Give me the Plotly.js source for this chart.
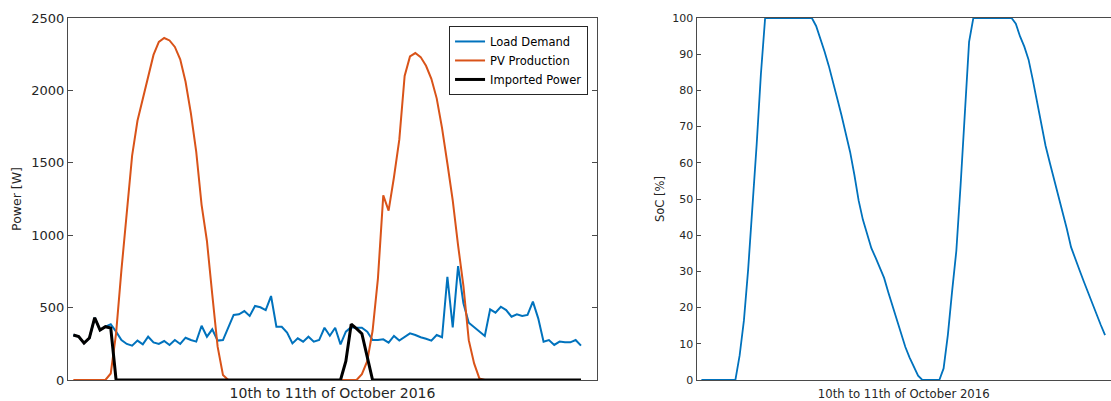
<!DOCTYPE html>
<html>
<head>
<meta charset="utf-8">
<script src="https://cdn.plot.ly/plotly-3.0.1.min.js"></script>
<style>
html,body{margin:0;padding:0;background:#fff;overflow:hidden;}
#chart{width:1111px;height:401px;}
</style>
</head>
<body>
<div id="chart"></div>
<script>
// ---- data (one sample per 30 min, 10th-11th October 2016) ----
const seriesNames = ["Load Demand", "PV Production", "Imported Power"];
const xAxisLabel = "10th to 11th of October 2016";
const powerAxisLabel = "Power [W]";
const socAxisLabel = "SoC [%]";

const loadDemand = [
  311,300,255,290,430,345,368,385,334,276,249,237,272,246,299,260,249,269,242,276,
  249,292,276,265,375,299,350,272,276,368,449,454,476,442,511,502,483,580,368,368,
  327,253,288,265,299,265,276,361,306,361,246,334,365,360,361,334,276,276,281,258,
  304,272,299,322,311,295,285,272,311,295,713,364,787,530,396,364,334,304,488,465,
  506,483,437,454,442,449,541,426,265,276,242,265,260,260,276,237
];
const pvProduction = [
  0,0,0,0,0,0,0,45,322,760,1180,1550,1790,1940,2110,2245,2335,2362,2345,2300,
  2215,2060,1842,1575,1210,960,590,230,35,0,0,0,0,0,0,0,0,0,0,0,
  0,0,0,0,0,0,0,0,0,0,0,0,0,0,40,130,340,700,1275,1170,
  1400,1660,2100,2235,2258,2230,2170,2080,1945,1740,1495,1240,930,650,275,115,10,0,0,0,
  0,0,0,0,0,0,0,0,0,0,0,0,0,0,0,0
];
const importedPower = [
  311,300,255,290,430,345,368,359,0,0,0,0,0,0,0,0,0,0,0,0,
  0,0,0,0,0,0,0,0,0,0,0,0,0,0,0,0,0,0,0,0,
  0,0,0,0,0,0,0,0,0,0,0,130,385,355,320,160,0,0,0,0,
  0,0,0,0,0,0,0,0,0,0,0,0,0,0,0,0,0,0,0,0,
  0,0,0,0,0,0,0,0,0,0,0,0,0,0,0,0
];
const stateOfCharge = [
  0,0,0,0,0,0,0,0,0,6.8,16.4,30.5,46.7,64.9,84.4,100,100,100,100,100,
  100,100,100,100,100,100,100,97.8,94.4,90.7,86.7,82.5,77.6,73,68.3,63,56.7,49.6,44.3,40,
  36.4,33.8,31,28.2,24.2,20.4,16.6,12.9,9.1,6.2,3.5,1.2,0,0,0,0,0,3.2,12.4,24.5,
  35.7,53.8,74.5,93.4,100,100,100,100,100,100,100,100,100,100,98.4,94.9,92.1,88.5,82.9,76.8,
  70.7,64.7,60,55.4,51,46.8,41.8,36.7,33.3,30.3,27.2,24.1,21,18,15.2,12.4
];
const powerTicks = [0, 500, 1000, 1500, 2000, 2500];
const socTicks = [0, 10, 20, 30, 40, 50, 60, 70, 80, 90, 100];

// ---- styling ----
const FONT = "DejaVu Sans, Arial, sans-serif";
const TXT = "#262626";
const AX = "#4a4a4a";

const traces = [
  {y: loadDemand, name: seriesNames[0], type: "scatter", mode: "lines",
   line: {color: "#0072BD", width: 2}, xaxis: "x", yaxis: "y"},
  {y: pvProduction, name: seriesNames[1], type: "scatter", mode: "lines",
   line: {color: "#D95319", width: 2}, xaxis: "x", yaxis: "y"},
  {y: importedPower, name: seriesNames[2], type: "scatter", mode: "lines",
   line: {color: "#000000", width: 3}, xaxis: "x", yaxis: "y"},
  {y: stateOfCharge, name: "SoC", type: "scatter", mode: "lines", showlegend: false,
   line: {color: "#0072BD", width: 1.8}, xaxis: "x2", yaxis: "y2"}
];

const layout = {
  width: 1111, height: 401,
  margin: {l: 68, r: 0, t: 18, b: 21},
  paper_bgcolor: "#fff", plot_bgcolor: "#fff",
  font: {family: FONT, color: TXT},
  showlegend: true,
  legend: {
    x: 0.4986, xanchor: "right", y: 0.978, yanchor: "top",
    bgcolor: "#fff", bordercolor: TXT, borderwidth: 1,
    font: {family: FONT, size: 11.5, color: "#000"},
    tracegroupgap: 0, itemwidth: 30
  },
  xaxis: {
    domain: [0, 0.5072], range: [-1, 98], anchor: "y",
    showticklabels: false, ticks: "", showgrid: false, zeroline: false,
    showline: true, mirror: true, linecolor: AX, linewidth: 1,
    title: {text: xAxisLabel, font: {family: FONT, size: 14, color: TXT}, standoff: 9}
  },
  yaxis: {
    domain: [0, 1], range: [0, 2500], anchor: "x",
    tickvals: powerTicks, ticktext: powerTicks.map(String),
    ticks: "inside", ticklen: 5, tickcolor: AX, showgrid: false, zeroline: false,
    showline: true, mirror: "ticks", linecolor: AX, linewidth: 1,
    tickfont: {family: FONT, size: 13, color: TXT},
    title: {text: powerAxisLabel, font: {family: FONT, size: 12.5, color: TXT}, standoff: 6}
  },
  xaxis2: {
    domain: [0.6026, 1], range: [-1.15, 96.4], anchor: "y2",
    showticklabels: false, ticks: "", showgrid: false, zeroline: false,
    showline: true, mirror: true, linecolor: AX, linewidth: 1,
    title: {text: xAxisLabel, font: {family: FONT, size: 11.7, color: TXT}, standoff: 9}
  },
  yaxis2: {
    domain: [0, 1], range: [0, 100], anchor: "x2",
    tickvals: socTicks, ticktext: socTicks.map(String),
    ticks: "inside", ticklen: 4, tickcolor: AX, showgrid: false, zeroline: false,
    showline: true, mirror: false, linecolor: AX, linewidth: 1,
    tickfont: {family: FONT, size: 11, color: TXT},
    title: {text: socAxisLabel, font: {family: FONT, size: 11.5, color: TXT}, standoff: 5}
  }
};

Plotly.newPlot("chart", traces, layout, {staticPlot: true, displayModeBar: false});
</script>
</body>
</html>
